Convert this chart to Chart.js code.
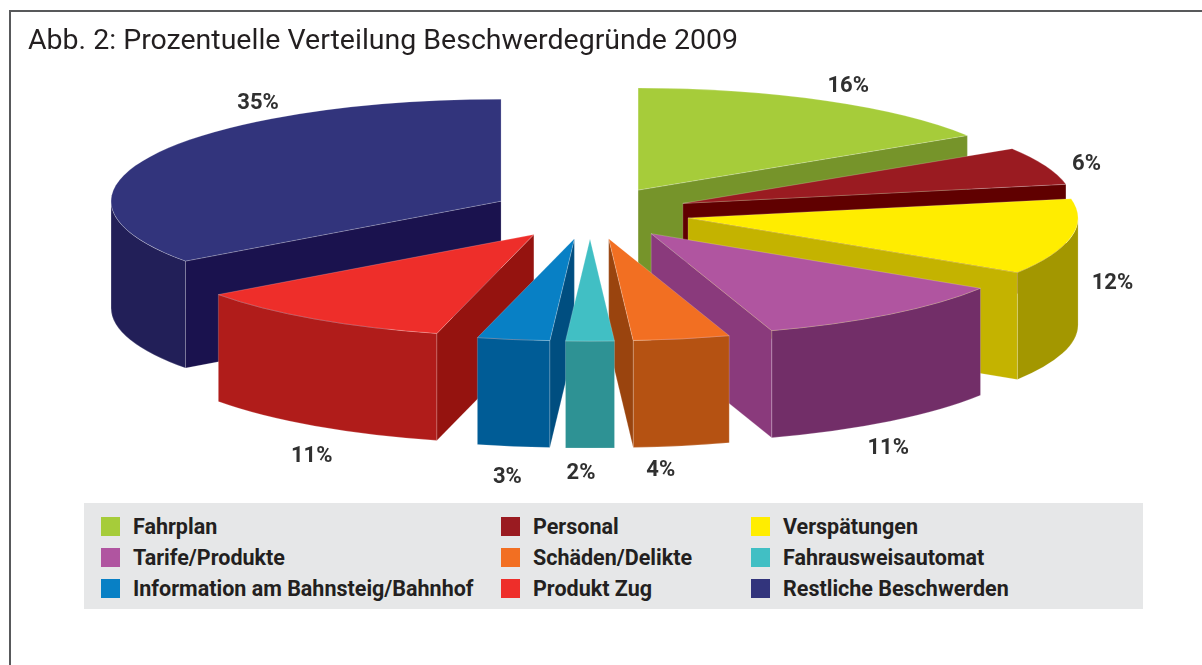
<!DOCTYPE html>
<html lang="de">
<head>
<meta charset="utf-8">
<title>Beschwerdegründe 2009</title>
<script src="https://cdn.jsdelivr.net/npm/chart.js@4.4.1/dist/chart.umd.min.js"></script>
<style>
  html, body { margin: 0; padding: 0; background: #fff; }
  #wrap { position: relative; width: 1202px; height: 665px; overflow: hidden;
          font-family: Roboto, "DejaVu Sans", sans-serif; color: #231f20; }
  #frame { position: absolute; left: 9px; top: 10px; right: -10px; bottom: -10px;
           border-top: 2px solid #58595b; border-left: 2px solid #58595b; }
  #title { position: absolute; left: 28px; top: 23px; font-size: 28.5px; white-space: nowrap; }
  #chart { position: absolute; left: 0; top: 0; }
  #legend { position: absolute; left: 84px; top: 503px; width: 1059px; height: 106px; background: #e6e7e8; }
  .item { position: absolute; font-weight: bold; font-size: 21.5px; line-height: 19px; white-space: nowrap; }
  .item i { position: absolute; left: -32px; top: 0; width: 19px; height: 19px; }
</style>
</head>
<body>
<div id="wrap">
  <div id="frame"></div>
  <canvas id="chart" width="1202" height="665"></canvas>
  <div id="title">Abb. 2: Prozentuelle Verteilung Beschwerdegründe 2009</div>
  <div id="legend"></div>
</div>
<script>
// Beschwerdegründe 2009, Anteile in Prozent
const categories = [
  "Fahrplan", "Personal", "Verspätungen",
  "Tarife/Produkte", "Schäden/Delikte", "Fahrausweisautomat",
  "Information am Bahnsteig/Bahnhof", "Produkt Zug", "Restliche Beschwerden"
];
const shares = [16, 6, 12, 11, 4, 2, 3, 11, 35];

// Farben: Deckfläche, Außenwand, Schnittflächen
const topColors  = ["#a6cc3a", "#9a1b21", "#ffed00", "#b055a0", "#f26f22", "#41bfc4", "#0880c5", "#ee2e2a", "#32347c"];
const rimColors  = ["#6e8a25", "#6a0f12", "#a39700", "#722e68", "#b55212", "#2e9294", "#005c96", "#b01c1a", "#221f58"];
const sideColors = ["#76942a", "#600000", "#c4b300", "#8a3a7c", "#9a440e", "#2a8588", "#004e80", "#95130f", "#1a124e"];

// Ansicht der 3D-Torte
const RX = 390;        // Halbachse horizontal
const RY = 102;        // Halbachse vertikal
const DEPTH = 107;     // Höhe der Torte
const EXPLODE = 0.256; // Herausziehen der Stücke, relativ zum Radius
const labelNudge = [[2, 0], [2, 0], [0, 2], [-2, 0], [-21, -8], [-9, -8], [-6, -2], [-3, 2], [142, -48]];

// Legende
const legend = document.getElementById("legend");
categories.forEach((name, i) => {
  const div = document.createElement("div");
  div.className = "item";
  div.style.left = (49 + [0, 400, 650][i % 3]) + "px";
  div.style.top = (14 + Math.floor(i / 3) * 31) + "px";
  const box = document.createElement("i");
  box.style.background = topColors[i];
  div.appendChild(box);
  div.appendChild(document.createTextNode(name));
  legend.appendChild(div);
});

function fillPath(ctx, color, build) {
  ctx.beginPath();
  build();
  ctx.closePath();
  ctx.fillStyle = color;
  ctx.fill();
  ctx.stroke();
}

function drawSlice(ctx, s) {
  const i = s.i;
  // Außenwand: nur der vordere Teil (untere Ellipsenhälfte) ist sichtbar
  const lo = Math.max(s.a0, 0), hi = Math.min(s.a1, Math.PI);
  if (hi > lo) {
    fillPath(ctx, rimColors[i], () => {
      ctx.ellipse(s.x, s.y, RX, RY, 0, lo, hi);
      ctx.ellipse(s.x, s.y + DEPTH, RX, RY, 0, hi, lo, true);
    });
  }
  // Schnittflächen
  const cut = (a) => fillPath(ctx, sideColors[i], () => {
    const px = s.x + RX * Math.cos(a), py = s.y + RY * Math.sin(a);
    ctx.moveTo(s.x, s.y);
    ctx.lineTo(px, py);
    ctx.lineTo(px, py + DEPTH);
    ctx.lineTo(s.x, s.y + DEPTH);
  });
  if (Math.cos(s.a0) < 0) cut(s.a0);
  if (Math.cos(s.a1) > 0) cut(s.a1);
  // Deckfläche
  fillPath(ctx, topColors[i], () => {
    ctx.moveTo(s.x, s.y);
    ctx.ellipse(s.x, s.y, RX, RY, 0, s.a0, s.a1);
  });
}

function slicesOf(chart, index) {
  return chart.getDatasetMeta(index).data.map((arc, i) => {
    const mid = (arc.startAngle + arc.endAngle) / 2;
    return {
      i, mid, a0: arc.startAngle, a1: arc.endAngle,
      x: arc.x + RX * EXPLODE * Math.cos(mid),
      y: arc.y + RY * EXPLODE * Math.sin(mid)
    };
  });
}

const pie3d = {
  id: "pie3d",
  beforeDatasetDraw(chart, args) {
    const ctx = chart.ctx;
    const slices = slicesOf(chart, args.index);
    ctx.save();
    ctx.lineWidth = 0.7;
    ctx.lineJoin = "round";
    ctx.strokeStyle = "rgba(255,255,255,0.28)";
    // von hinten nach vorne zeichnen
    slices.slice().sort((p, q) => p.y - q.y).forEach(s => drawSlice(ctx, s));
    ctx.restore();
    return false;
  },
  afterDatasetsDraw(chart) {
    const ctx = chart.ctx;
    ctx.save();
    ctx.font = "bold 22px Roboto, 'DejaVu Sans', sans-serif";
    ctx.fillStyle = "#303030";
    ctx.textAlign = "center";
    ctx.textBaseline = "middle";
    slicesOf(chart, 0).forEach(s => {
      const c = Math.cos(s.mid), sn = Math.sin(s.mid);
      const t = Math.min(1, Math.max(0, sn * 1.6));
      const gx = 42 * Math.min(1, 2 * (1 - t));
      const x = s.x + (RX + gx) * c + labelNudge[s.i][0];
      const y = s.y + (RY + 25) * sn + DEPTH * t + 8 + labelNudge[s.i][1];
      ctx.fillText(shares[s.i] + "%", x, y);
    });
    ctx.restore();
  }
};

new Chart(document.getElementById("chart"), {
  type: "pie",
  data: {
    labels: categories,
    datasets: [{ data: shares, backgroundColor: topColors, borderWidth: 0 }]
  },
  options: {
    responsive: false,
    animation: false,
    events: [],
    layout: { padding: { left: 0, right: 22, top: 0, bottom: 239 } },
    plugins: { legend: { display: false }, tooltip: { enabled: false } }
  },
  plugins: [pie3d]
});
</script>
</body>
</html>
